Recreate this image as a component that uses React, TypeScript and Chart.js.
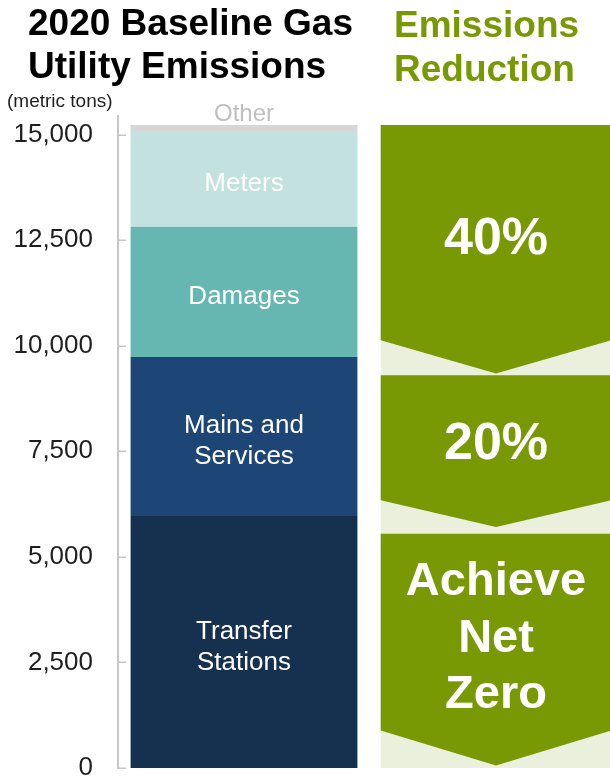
import React, { useEffect, useRef } from 'react';
import { Chart, registerables } from 'chart.js';

Chart.register(...registerables);

// ---- data ----
const categories = ['Baseline', 'Reduction'];
const segmentNames = ['Transfer Stations', 'Mains and Services', 'Damages', 'Meters', 'Other'];
const segmentLabelLines = [['Transfer', 'Stations'], ['Mains and', 'Services'], ['Damages'], ['Meters'], ['Other']];
const segmentValues = [5970, 3765, 3080, 2270, 140];
const segmentColors = ['#16304f', '#1d4676', '#66b7b1', '#c3e2df', '#d6d6d6'];
const segmentLabelColors = ['#ffffff', '#ffffff', '#ffffff', '#ffffff', '#bfbfbf'];

const yTicks = [0, 2500, 5000, 7500, 10000, 12500, 15000];
const yMax = 15440;

const reductionLabels = [['40%'], ['20%'], ['Achieve', 'Net', 'Zero']];
const arrowTop = [15225, 9300, 5550];
const arrowShoulder = [10130, 6340, 890];
const arrowTip = [9340, 5705, 60];

const FONT = "'Liberation Sans', Arial, Helvetica, sans-serif";
const GREEN = '#789904';
const LIGHT_GREEN = '#ebf0dc';
const AXIS_GREY = '#c6c6c6';

const panelPlugin = {
  id: 'reductionPanel',
  beforeDatasetsDraw(chart: any) {
    const { ctx, scales } = chart;
    const x = scales.x;
    const y = scales.y;
    const cx = x.getPixelForValue(1);
    const catW = x.getPixelForValue(1) - x.getPixelForValue(0);
    const w = catW * 0.915;
    const left = cx - w / 2;
    const right = cx + w / 2;
    ctx.save();
    ctx.fillStyle = LIGHT_GREEN;
    const bgTop = y.getPixelForValue(arrowTop[0]);
    ctx.fillRect(left, bgTop, w, y.getPixelForValue(0) - bgTop);
    arrowTop.forEach((t, i) => {
      const yt = y.getPixelForValue(t);
      const ys = y.getPixelForValue(arrowShoulder[i]);
      const yp = y.getPixelForValue(arrowTip[i]);
      ctx.beginPath();
      ctx.moveTo(left, yt);
      ctx.lineTo(right, yt);
      ctx.lineTo(right, ys);
      ctx.lineTo(cx, yp);
      ctx.lineTo(left, ys);
      ctx.closePath();
      ctx.fillStyle = GREEN;
      ctx.fill();
      const lines = reductionLabels[i];
      const size = lines.length > 1 ? 47 : 52;
      const lh = 56.5;
      const center = (yt + ys) / 2 + 3;
      ctx.fillStyle = '#ffffff';
      ctx.font = `bold ${size}px ${FONT}`;
      ctx.textAlign = 'center';
      ctx.textBaseline = 'alphabetic';
      lines.forEach((ln, k) => {
        const lc = center + (k - (lines.length - 1) / 2) * lh;
        ctx.fillText(ln, cx, lc + size * 0.358);
      });
    });
    ctx.restore();
  },
};

const labelPlugin = {
  id: 'segmentLabels',
  afterDatasetsDraw(chart: any) {
    const { ctx } = chart;
    ctx.save();
    ctx.textAlign = 'center';
    ctx.textBaseline = 'alphabetic';
    segmentNames.forEach((_, i) => {
      const meta = chart.getDatasetMeta(i);
      const el = meta.data[0];
      if (!el) return;
      const lines = segmentLabelLines[i];
      const isOther = i === segmentNames.length - 1;
      const size = isOther ? 24 : 26;
      const lh = 31.5;
      const center = isOther ? el.y - 13 : (el.y + el.base) / 2 + 3;
      ctx.fillStyle = segmentLabelColors[i];
      ctx.font = `${size}px ${FONT}`;
      lines.forEach((ln, k) => {
        const lc = center + (k - (lines.length - 1) / 2) * lh;
        ctx.fillText(ln, el.x, lc + size * 0.358);
      });
    });
    ctx.restore();
  },
  afterDraw(chart: any) {
    const { ctx, scales, chartArea } = chart;
    const y = scales.y;
    ctx.save();
    ctx.strokeStyle = AXIS_GREY;
    ctx.lineWidth = 1.5;
    yTicks.forEach((v) => {
      const py = Math.round(y.getPixelForValue(v)) + 0.25;
      ctx.beginPath();
      ctx.moveTo(chartArea.left - 1, py);
      ctx.lineTo(chartArea.left + 8, py);
      ctx.stroke();
    });
    ctx.restore();
  },
};

export default function App() {
  const ref = useRef<HTMLCanvasElement>(null);

  useEffect(() => {
    if (!ref.current) return;
    const chart = new Chart(ref.current, {
      type: 'bar',
      data: {
        labels: categories,
        datasets: segmentNames.map((n, i) => ({
          label: n,
          data: [segmentValues[i], null],
          backgroundColor: segmentColors[i],
          borderWidth: 0,
          categoryPercentage: 1,
          barPercentage: 0.9,
        })),
      },
      options: {
        responsive: false,
        animation: false,
        devicePixelRatio: 1,
        layout: { padding: { top: 116, bottom: 9, left: 0, right: 0 } },
        plugins: {
          legend: { display: false },
          tooltip: { enabled: false },
          title: { display: false },
        },
        scales: {
          x: { stacked: true, display: false },
          y: {
            stacked: true,
            min: 0,
            max: yMax,
            afterFit: (s: any) => {
              s.width = 118;
            },
            afterBuildTicks: (s: any) => {
              s.ticks = yTicks.map((v) => ({ value: v }));
            },
            ticks: {
              font: { family: FONT, size: 26, lineHeight: 0.6 },
              color: '#1f1f1f',
              padding: 0,
              callback: (v: any) => Number(v).toLocaleString('en-US'),
            },
            grid: { display: false, drawTicks: true, tickLength: 25 },
            border: { display: true, color: AXIS_GREY, width: 2 },
          },
        },
      } as any,
      plugins: [panelPlugin, labelPlugin],
    });
    return () => chart.destroy();
  }, []);

  return (
    <div
      style={{
        position: 'fixed',
        left: 0,
        top: 0,
        width: 610,
        height: 777,
        overflow: 'hidden',
        background: '#ffffff',
        fontFamily: FONT,
      }}
    >
      <canvas ref={ref} width={622} height={777} style={{ position: 'absolute', left: 0, top: 0, display: 'block' }} />
      <div
        style={{
          position: 'absolute',
          left: 28,
          top: 1,
          fontSize: 37,
          fontWeight: 'bold',
          lineHeight: '43px',
          color: '#000000',
          whiteSpace: 'nowrap',
        }}
      >
        2020 Baseline Gas
        <br />
        Utility Emissions
      </div>
      <div
        style={{
          position: 'absolute',
          left: 394,
          top: 3,
          fontSize: 37,
          fontWeight: 'bold',
          lineHeight: '44px',
          color: GREEN,
          whiteSpace: 'nowrap',
        }}
      >
        Emissions
        <br />
        Reduction
      </div>
      <div
        style={{
          position: 'absolute',
          left: 7,
          top: 90,
          fontSize: 19,
          lineHeight: '22px',
          color: '#1f1f1f',
          whiteSpace: 'nowrap',
        }}
      >
        (metric tons)
      </div>
    </div>
  );
}
